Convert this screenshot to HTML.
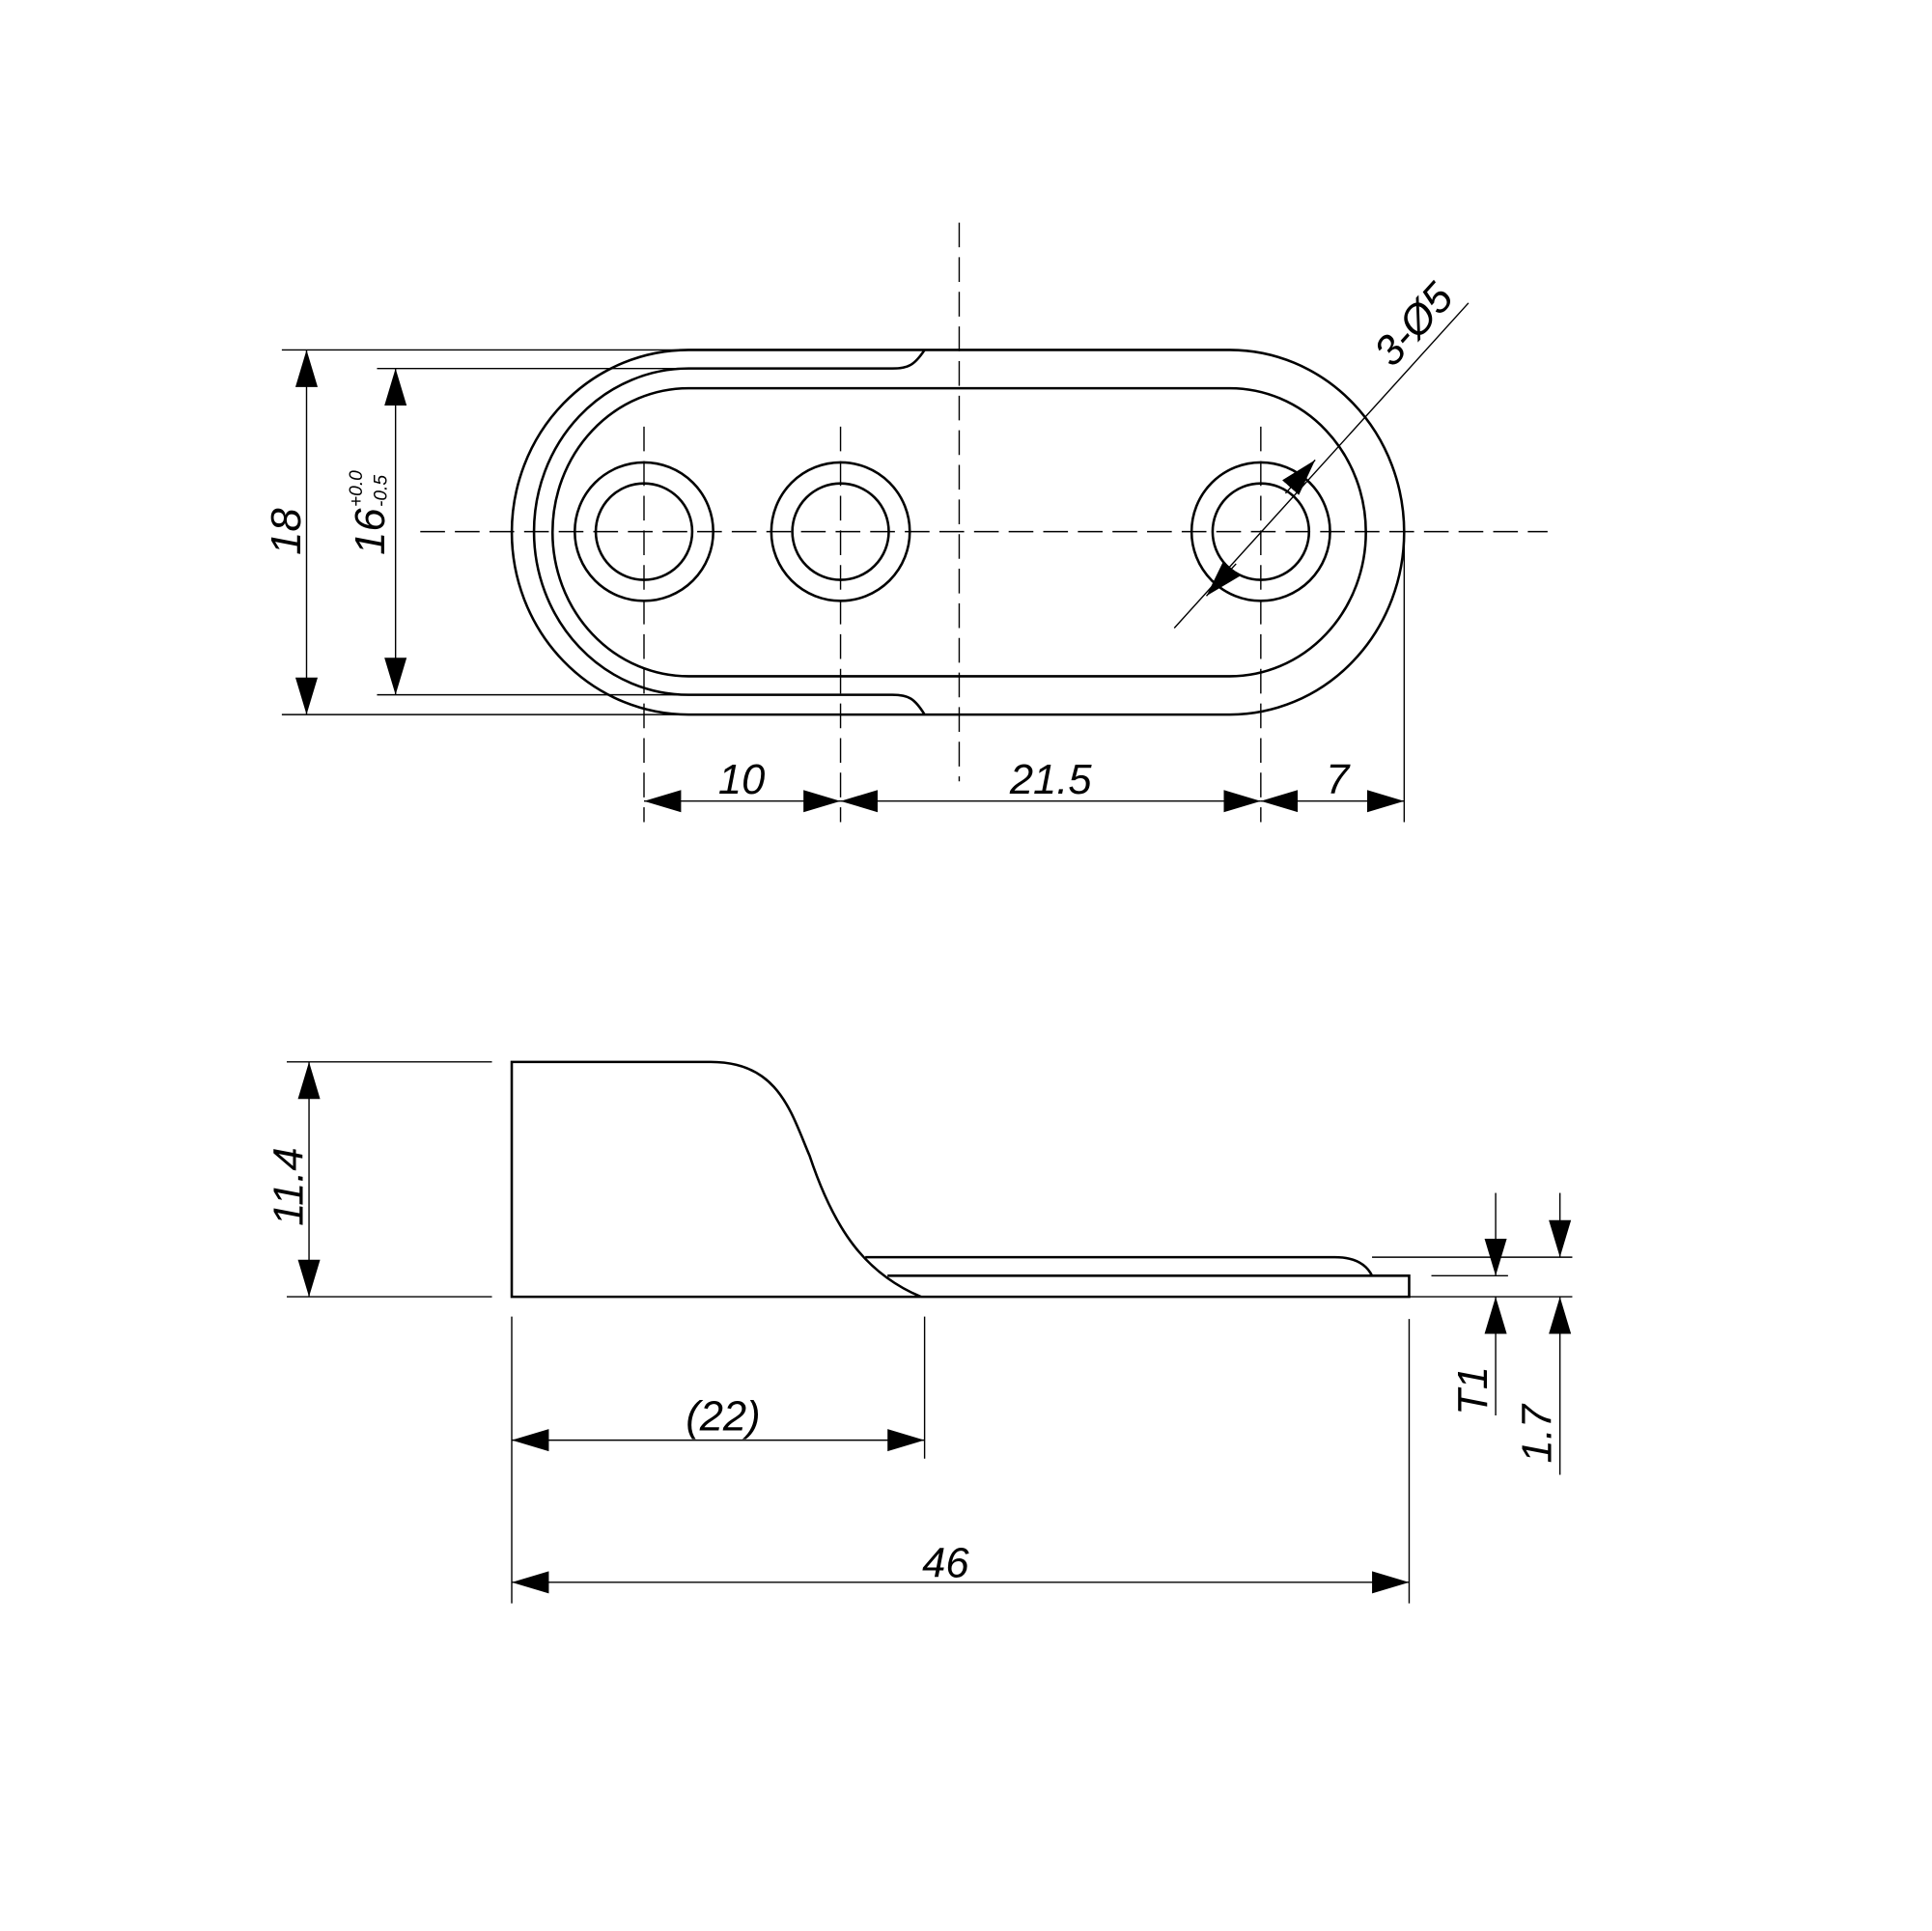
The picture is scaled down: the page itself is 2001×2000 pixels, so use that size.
<!DOCTYPE html>
<html><head><meta charset="utf-8"><style>html,body{margin:0;padding:0;background:#fff}svg{display:block}</style></head>
<body>
<svg width="2001" height="2000" viewBox="0 0 1563 1562" xmlns="http://www.w3.org/2000/svg">
<defs>
<marker id="a" markerUnits="userSpaceOnUse" markerWidth="30" markerHeight="20" viewBox="0 0 30 20" refX="30" refY="10" orient="auto-start-reverse"><path d="M0,1 L30,10 L0,19 Z" fill="#000"/></marker>
</defs>
<g fill="none" stroke="#000" stroke-width="1.1">
<g stroke-dasharray="20,8">
<line x1="776" y1="180" x2="776" y2="632"/>
<line x1="340" y1="430" x2="1252" y2="430"/>
<line x1="521" y1="345" x2="521" y2="665"/>
<line x1="680" y1="345" x2="680" y2="665"/>
<line x1="1020" y1="345" x2="1020" y2="665"/>
</g>
<line x1="228" y1="283" x2="557" y2="283"/>
<line x1="228" y1="578" x2="557" y2="578"/>
<line x1="305" y1="298" x2="557" y2="298"/>
<line x1="305" y1="562" x2="557" y2="562"/>
<line x1="1136" y1="440" x2="1136" y2="665"/>
<line x1="248" y1="283" x2="248" y2="578" marker-start="url(#a)" marker-end="url(#a)"/>
<line x1="320" y1="298" x2="320" y2="562" marker-start="url(#a)" marker-end="url(#a)"/>
<line x1="521" y1="648" x2="680" y2="648" marker-start="url(#a)" marker-end="url(#a)"/>
<line x1="680" y1="648" x2="1020" y2="648" marker-start="url(#a)" marker-end="url(#a)"/>
<line x1="1020" y1="648" x2="1136" y2="648" marker-start="url(#a)" marker-end="url(#a)"/>
<line x1="950" y1="508" x2="1188" y2="245"/>
<line x1="1040" y1="399" x2="1064" y2="372" marker-end="url(#a)"/>
<line x1="1000" y1="456" x2="976" y2="482" marker-end="url(#a)"/>
</g>
<g fill="none" stroke="#000" stroke-width="2">
<path d="M557,283 L995,283 A141,147.5 0 0 1 995,578 L557,578 A143,147.5 0 0 1 557,283 Z"/>
<path d="M748,283 C740,295 735,298 722,298 L557,298 A125,132 0 0 0 557,562 L722,562 C735,562 740,565 748,578"/>
<path d="M557,314 L995,314 A110,116.5 0 0 1 995,547 L557,547 A110,116.5 0 0 1 557,314 Z"/>
<circle cx="521" cy="430" r="39"/><circle cx="521" cy="430" r="56"/>
<circle cx="680" cy="430" r="39"/><circle cx="680" cy="430" r="56"/>
<circle cx="1020" cy="430" r="39"/><circle cx="1020" cy="430" r="56"/>
<path d="M414,859 L575,859 C630,859 640,900 655,935 C675,995 700,1030 745,1049 L414,1049 Z"/>
<path d="M700,1017 L1080,1017 C1098,1017 1106,1024 1110,1032"/>
<path d="M718,1032 L1140,1032 L1140,1049 L745,1049"/>
</g>
<g fill="none" stroke="#000" stroke-width="1.1">
<line x1="232" y1="859" x2="398" y2="859"/>
<line x1="232" y1="1049" x2="398" y2="1049"/>
<line x1="250" y1="859" x2="250" y2="1049" marker-start="url(#a)" marker-end="url(#a)"/>
<line x1="414" y1="1065" x2="414" y2="1297"/>
<line x1="748" y1="1065" x2="748" y2="1180"/>
<line x1="1140" y1="1067" x2="1140" y2="1297"/>
<line x1="414" y1="1165" x2="748" y2="1165" marker-start="url(#a)" marker-end="url(#a)"/>
<line x1="414" y1="1280" x2="1140" y2="1280" marker-start="url(#a)" marker-end="url(#a)"/>
<line x1="1158" y1="1032" x2="1220" y2="1032"/>
<line x1="1110" y1="1017" x2="1272" y2="1017"/>
<line x1="1140" y1="1049" x2="1272" y2="1049"/>
<line x1="1210" y1="965" x2="1210" y2="1032" marker-end="url(#a)"/>
<line x1="1210" y1="1145" x2="1210" y2="1049" marker-end="url(#a)"/>
<line x1="1262" y1="965" x2="1262" y2="1017" marker-end="url(#a)"/>
<line x1="1262" y1="1193" x2="1262" y2="1049" marker-end="url(#a)"/>
</g>
<g font-family="Liberation Sans, sans-serif" font-style="italic" font-size="34" fill="#000" text-anchor="middle">
<text transform="translate(243,430) rotate(-90)">18</text>
<text transform="translate(311,430) rotate(-90)">16</text>
<text transform="translate(293,410) rotate(-90)" font-size="15" text-anchor="start">+0.0</text>
<text transform="translate(313,410) rotate(-90)" font-size="15" text-anchor="start">-0.5</text>
<text x="600" y="642">10</text>
<text x="850" y="642">21.5</text>
<text x="1082" y="642">7</text>
<text transform="translate(1152,270) rotate(-48)">3-Ø5</text>
<text transform="translate(245,960) rotate(-90)">11.4</text>
<text x="585" y="1157">(22)</text>
<text x="765" y="1276">46</text>
<text transform="translate(1203,1125) rotate(-90)">T1</text>
<text transform="translate(1255,1160) rotate(-90)">1.7</text>
</g>
</svg>
</body></html>
